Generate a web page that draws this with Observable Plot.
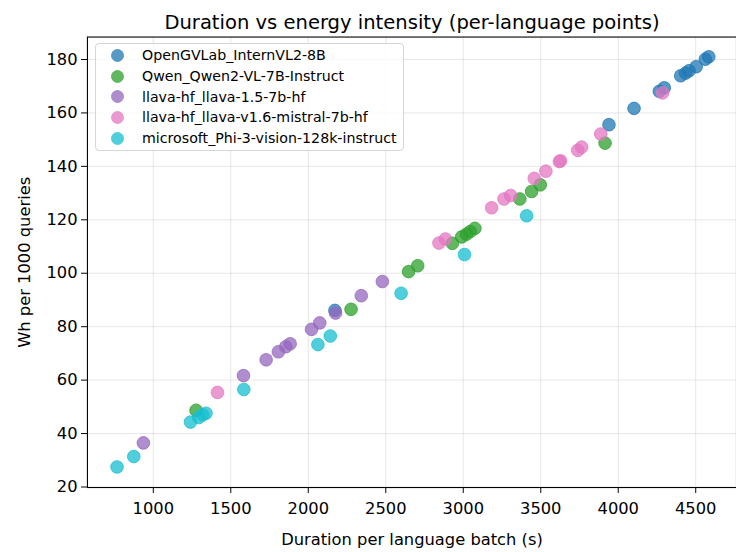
<!DOCTYPE html>
<html>
<head>
<meta charset="utf-8">
<script src="https://cdn.jsdelivr.net/npm/d3@7"></script>
<script src="https://cdn.jsdelivr.net/npm/@observablehq/plot@0.6"></script>
<style>
  html, body { margin: 0; padding: 0; background: #fff; }
  #wrap { position: relative; width: 736px; height: 552px; overflow: hidden; }
  #legend {
    position: absolute; left: 95px; top: 43px;
    background: rgba(255,255,255,0.8);
    border: 1px solid #d6d6d6; border-radius: 4px;
    padding: 1px 6px 2px 10px;
    font-family: "DejaVu Sans", sans-serif; font-size: 14.2px; color: #000;
  }
  #legend .row { display: flex; align-items: center; height: 20.7px; }
  #legend .sw { width: 13px; height: 13px; border-radius: 50%; margin-left: 5px; margin-right: 18px; box-sizing: border-box; }
</style>
</head>
<body>
<div id="wrap"></div>
<script>
const title = "Duration vs energy intensity (per-language points)";
const xLabel = "Duration per language batch (s)";
const yLabel = "Wh per 1000 queries";

const models = [
  "OpenGVLab_InternVL2-8B",
  "Qwen_Qwen2-VL-7B-Instruct",
  "llava-hf_llava-1.5-7b-hf",
  "llava-hf_llava-v1.6-mistral-7b-hf",
  "microsoft_Phi-3-vision-128k-instruct"
];
const colors = ["#1f77b4", "#2ca02c", "#9467bd", "#e377c2", "#17becf"];

const internX = [2172, 3940, 4102, 4265, 4297, 4403, 4435, 4457, 4503, 4562, 4584];
const internY = [86.1, 155.6, 161.7, 168.1, 169.4, 173.9, 174.9, 175.8, 177.3, 180.1, 181.0];

const qwenX = [1276, 2276, 2647, 2706, 2930, 2990, 3020, 3045, 3075, 3365, 3441, 3497, 3915];
const qwenY = [48.7, 86.5, 100.6, 102.8, 111.2, 113.6, 114.6, 115.6, 116.8, 127.8, 130.6, 133.1, 148.7];

const llava15X = [936, 1582, 1728, 1807, 1855, 1883, 2021, 2074, 2176, 2342, 2478];
const llava15Y = [36.5, 61.7, 67.6, 70.6, 72.5, 73.6, 79.0, 81.4, 85.1, 91.6, 96.9];

const llava16X = [1414, 2843, 2885, 3183, 3263, 3306, 3458, 3533, 3620, 3628, 3739, 3764, 3887, 4286];
const llava16Y = [55.4, 111.3, 112.8, 124.5, 127.8, 129.1, 135.5, 138.2, 141.8, 142.1, 146.0, 147.2, 152.1, 167.5];

const phiX = [766, 874, 1240, 1293, 1318, 1340, 1584, 2062, 2142, 2599, 3008, 3409];
const phiY = [27.5, 31.4, 44.3, 46.0, 47.0, 47.6, 56.5, 73.3, 76.5, 92.5, 107.0, 121.5];

const xTicks = [1000, 1500, 2000, 2500, 3000, 3500, 4000, 4500];
const yTicks = [20, 40, 60, 80, 100, 120, 140, 160, 180];

const seriesX = [internX, qwenX, llava15X, llava16X, phiX];
const seriesY = [internY, qwenY, llava15Y, llava16Y, phiY];
const data = [];
models.forEach((m, i) => seriesX[i].forEach((x, j) => data.push({model: m, x, y: seriesY[i][j]})));

const font = "DejaVu Sans, sans-serif";
const chart = Plot.plot({
  width: 745, height: 552,
  marginLeft: 88, marginRight: 0, marginTop: 37, marginBottom: 59,
  style: {fontFamily: font, fontSize: "16.5px", color: "#000", background: "#fff", overflow: "visible"},
  x: {domain: [575, 4763], ticks: xTicks},
  y: {domain: [19.8, 188.4], ticks: yTicks},
  color: {domain: models, range: colors},
  marks: [
    Plot.gridX(xTicks, {stroke: "#b0b0b0", strokeOpacity: 0.35, strokeWidth: 0.9}),
    Plot.gridY(yTicks, {stroke: "#b0b0b0", strokeOpacity: 0.35, strokeWidth: 0.9}),
    Plot.dot(data, {x: "x", y: "y", fill: "model", stroke: "model", r: 6.4,
      fillOpacity: 0.75, strokeOpacity: 0.75, strokeWidth: 1}),
    Plot.frame({stroke: "#000", strokeWidth: 1.1}),
    Plot.axisX(xTicks, {tickSize: 6, tickPadding: 9, fontSize: 16.5, tickFormat: d => String(d),
      label: xLabel, labelAnchor: "center", labelArrow: "none", labelOffset: 58}),
    Plot.axisY(yTicks, {tickSize: 6, tickPadding: 4, fontSize: 16.5, tickFormat: d => String(d),
      label: yLabel, labelAnchor: "center", labelArrow: "none", labelOffset: 70}),
    Plot.text([title], {frameAnchor: "top", dy: -22, fontSize: 19.8, fill: "#000"})
  ]
});
const wrap = document.getElementById("wrap");
wrap.appendChild(chart);

const legend = document.createElement("div");
legend.id = "legend";
models.forEach((m, i) => {
  const row = document.createElement("div");
  row.className = "row";
  const sw = document.createElement("div");
  sw.className = "sw";
  sw.style.background = colors[i];
  sw.style.opacity = 0.75;
  sw.style.border = "1px solid " + colors[i];
  const t = document.createElement("span");
  t.textContent = m;
  row.appendChild(sw); row.appendChild(t);
  legend.appendChild(row);
});
wrap.appendChild(legend);
</script>
</body>
</html>
